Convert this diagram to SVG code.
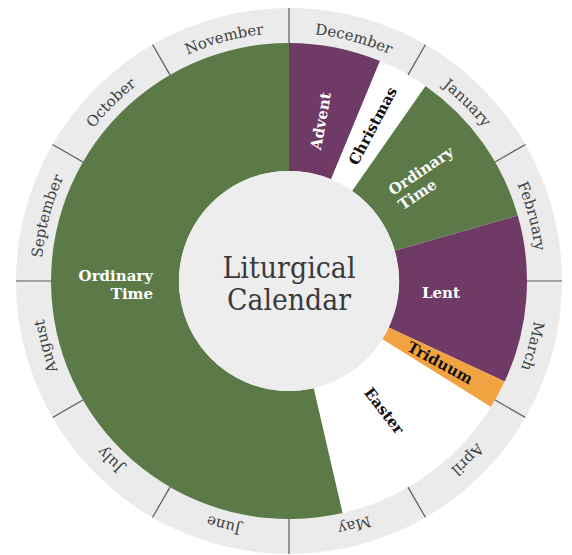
<svg xmlns="http://www.w3.org/2000/svg" width="572" height="555" viewBox="0 0 572 555">
<style>
.month{font-family:"DejaVu Serif","Liberation Serif",serif;font-size:15px;fill:#404040}
.seg{font-family:"DejaVu Serif","Liberation Serif",serif;font-size:15px;font-weight:bold}
.w{fill:#ffffff}
.b{fill:#111111}
.div{stroke:#5a5a5a;stroke-width:1.2;fill:none}
.purple{fill:#6f3b66}
.green{fill:#5b7a48}
.orange{fill:#f2a341}
.white{fill:#ffffff}
.title{font-family:"DejaVu Serif","Liberation Serif",serif;font-size:29px;fill:#3a3a3a;text-anchor:middle}
</style>
<defs>
<path id="monthPath" d="M 289 33 A 248 248 0 1 1 289 529 A 248 248 0 1 1 289 33"/>
</defs>
<rect x="0" y="0" width="572" height="555" fill="#ffffff"/>
<g id="month-ring">
<circle cx="289" cy="281" r="255.5" fill="none" stroke="#ebebeb" stroke-width="35"/>
</g>
<g id="advent">
<path class="purple" d="M 289 43 A 238 238 0 0 1 380.08 61.12 L 331.09 179.37 A 110 110 0 0 0 289 171 Z"/>
<text class="seg w" text-anchor="middle" transform="translate(321,121) rotate(-80)" y="5">Advent</text>
</g>
<g id="christmas">
<path class="white" d="M 380.08 61.12 A 238 238 0 0 1 425.51 86.04 L 352.09 190.89 A 110 110 0 0 0 331.09 179.37 Z"/>
<text class="seg b" text-anchor="middle" transform="translate(373,126) rotate(-62)" y="5">Christmas</text>
</g>
<g id="ordinary-time-1">
<path class="green" d="M 425.51 86.04 A 238 238 0 0 1 517.78 215.40 L 394.74 250.68 A 110 110 0 0 0 352.09 190.89 Z"/>
<text class="seg w" transform="translate(393,196) rotate(-34)"><tspan x="0" y="0">Ordinary</tspan><tspan x="0" y="17.5">Time</tspan></text>
</g>
<g id="lent">
<path class="purple" d="M 517.78 215.40 A 238 238 0 0 1 504.70 381.58 L 388.69 327.49 A 110 110 0 0 0 394.74 250.68 Z"/>
<text class="seg w" text-anchor="middle" x="441" y="298">Lent</text>
</g>
<g id="triduum">
<path class="orange" d="M 504.70 381.58 A 238 238 0 0 1 490.84 407.12 L 382.29 339.29 A 110 110 0 0 0 388.69 327.49 Z"/>
<text class="seg b" text-anchor="middle" transform="translate(440,363) rotate(28.5)" y="5">Triduum</text>
</g>
<g id="easter">
<path class="white" d="M 490.84 407.12 A 238 238 0 0 1 342.54 512.90 L 313.74 388.18 A 110 110 0 0 0 382.29 339.29 Z"/>
<text class="seg b" text-anchor="middle" transform="translate(384,411) rotate(52)" y="5">Easter</text>
</g>
<g id="ordinary-time-2">
<path class="green" d="M 342.54 512.90 A 238 238 0 1 1 289 43 L 289 171 A 110 110 0 1 0 313.74 388.18 Z"/>
<text class="seg w" text-anchor="end"><tspan x="153" y="281">Ordinary</tspan><tspan x="153" y="298.5">Time</tspan></text>
</g>
<g id="center">
<circle cx="289" cy="281" r="110" fill="#ededed"/>
<text class="title" x="289" y="278" textLength="133" lengthAdjust="spacingAndGlyphs">Liturgical</text>
<text class="title" x="289" y="310" textLength="124" lengthAdjust="spacingAndGlyphs">Calendar</text>
</g>
<g id="connectors">
<line class="div" x1="289" y1="43" x2="289" y2="8"/>
<line class="div" x1="408" y1="74.88" x2="425.5" y2="44.57"/>
<line class="div" x1="495.12" y1="162" x2="525.43" y2="144.5"/>
<line class="div" x1="527" y1="281" x2="562" y2="281"/>
<line class="div" x1="495.12" y1="400" x2="525.43" y2="417.5"/>
<line class="div" x1="408" y1="487.12" x2="425.5" y2="517.43"/>
<line class="div" x1="289" y1="519" x2="289" y2="554"/>
<line class="div" x1="170" y1="487.12" x2="152.5" y2="517.43"/>
<line class="div" x1="82.88" y1="400" x2="52.57" y2="417.5"/>
<line class="div" x1="51" y1="281" x2="16" y2="281"/>
<line class="div" x1="82.88" y1="162" x2="52.57" y2="144.5"/>
<line class="div" x1="170" y1="74.88" x2="152.5" y2="44.57"/>
</g>
<g id="months">
<text class="month" text-anchor="middle"><textPath href="#monthPath" startOffset="4.1667%">December</textPath></text>
<text class="month" text-anchor="middle"><textPath href="#monthPath" startOffset="12.5%">January</textPath></text>
<text class="month" text-anchor="middle"><textPath href="#monthPath" startOffset="20.8333%">February</textPath></text>
<text class="month" text-anchor="middle"><textPath href="#monthPath" startOffset="29.1667%">March</textPath></text>
<text class="month" text-anchor="middle"><textPath href="#monthPath" startOffset="37.5%">April</textPath></text>
<text class="month" text-anchor="middle"><textPath href="#monthPath" startOffset="45.8333%">May</textPath></text>
<text class="month" text-anchor="middle"><textPath href="#monthPath" startOffset="54.1667%">June</textPath></text>
<text class="month" text-anchor="middle"><textPath href="#monthPath" startOffset="62.5%">July</textPath></text>
<text class="month" text-anchor="middle"><textPath href="#monthPath" startOffset="70.8333%">August</textPath></text>
<text class="month" text-anchor="middle"><textPath href="#monthPath" startOffset="79.1667%">September</textPath></text>
<text class="month" text-anchor="middle"><textPath href="#monthPath" startOffset="87.5%">October</textPath></text>
<text class="month" text-anchor="middle"><textPath href="#monthPath" startOffset="95.8333%">November</textPath></text>
</g>
</svg>
